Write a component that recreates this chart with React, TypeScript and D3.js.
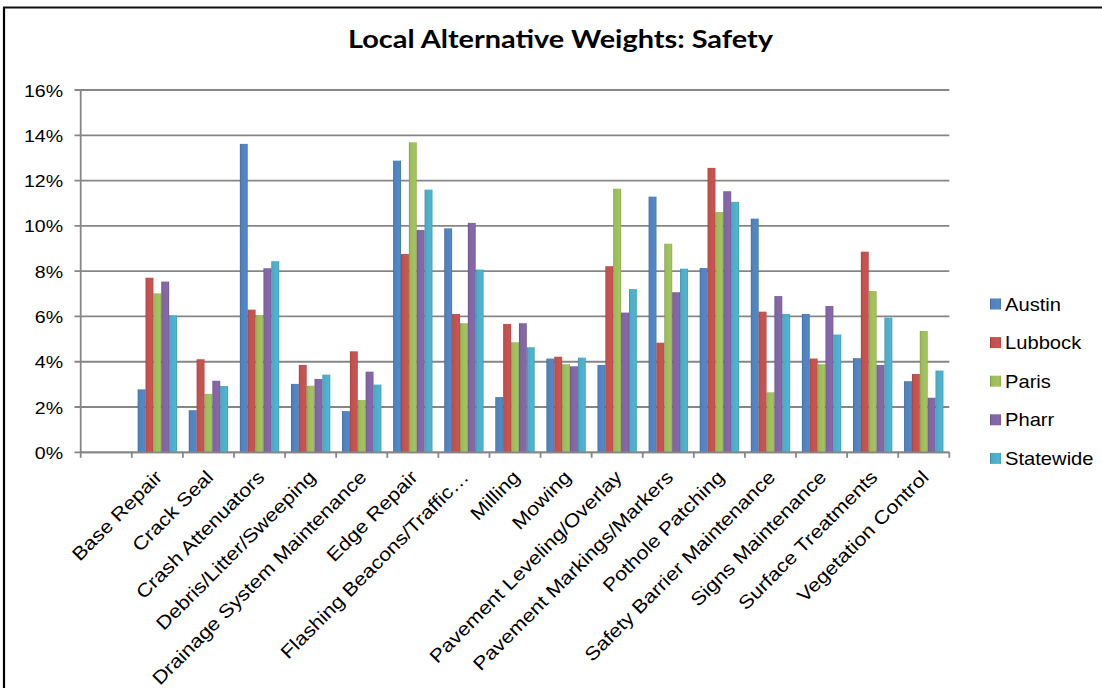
import React from "react";
import * as d3 from "d3";

// Maintenance activities (the leading blank slot is an empty category on the axis)
const categories = [
  "",
  "Base Repair",
  "Crack Seal",
  "Crash Attenuators",
  "Debris/Litter/Sweeping",
  "Drainage System Maintenance",
  "Edge Repair",
  "Flashing Beacons/Traffic…",
  "Milling",
  "Mowing",
  "Pavement Leveling/Overlay",
  "Pavement Markings/Markers",
  "Pothole Patching",
  "Safety Barrier Maintenance",
  "Signs Maintenance",
  "Surface Treatments",
  "Vegetation Control",
];

const seriesNames = ["Austin", "Lubbock", "Paris", "Pharr", "Statewide"];
const seriesColors = ["#4F81BD", "#C0504D", "#9BBB59", "#8064A2", "#4BACC6"];

// Local weights in percent
const austin = [null, 2.78, 1.86, 13.62, 3.02, 1.82, 12.88, 9.89, 2.44, 4.14, 3.86, 11.29, 8.14, 10.32, 6.11, 4.16, 3.14];
const lubbock = [null, 7.71, 4.11, 6.3, 3.86, 4.46, 8.76, 6.11, 5.67, 4.22, 8.22, 4.84, 12.56, 6.21, 4.14, 8.86, 3.46];
const paris = [null, 7.02, 2.58, 6.06, 2.94, 2.31, 13.69, 5.7, 4.86, 3.89, 11.64, 9.21, 10.61, 2.65, 3.89, 7.12, 5.36];
const pharr = [null, 7.54, 3.16, 8.13, 3.24, 3.56, 9.82, 10.13, 5.7, 3.8, 6.17, 7.07, 11.53, 6.9, 6.46, 3.86, 2.41];
const statewide = [null, 6.05, 2.93, 8.44, 3.43, 2.99, 11.6, 8.07, 4.64, 4.18, 7.21, 8.11, 11.06, 6.11, 5.2, 5.95, 3.61];

const seriesValues = [austin, lubbock, paris, pharr, statewide];

const yTicks = [0, 2, 4, 6, 8, 10, 12, 14, 16];
const yTickLabels = yTicks.map((t) => `${t}%`);

const W = 1102;
const H = 688;
const plot = { left: 80.7, right: 949.3, top: 90, bottom: 452.3 };
const FONT = "'Liberation Sans', Arial, sans-serif";
const GRID = "#868686";

export default function App() {
  const x = d3.scaleBand<string>().domain(categories).range([plot.left, plot.right]).padding(0);
  const bw = x.bandwidth();
  const inset = bw * 0.115;
  const xs = d3.scaleBand<string>().domain(seriesNames).range([inset, bw - inset]).padding(0);
  const y = d3.scaleLinear().domain([0, 16]).range([plot.bottom, plot.top]);

  const boundaries = categories.map((c) => x(c) as number).concat([plot.right]);

  return (
    <svg
      width={W}
      height={H}
      viewBox={`0 0 ${W} ${H}`}
      style={{ position: "absolute", left: 0, top: 0, background: "#fff" }}
      fontFamily={FONT}
    >
      <defs>
        {seriesColors.map((c, i) => {
          const base = d3.color(c)!;
          return (
            <linearGradient key={i} id={`bar-${i}`} x1="0" x2="1" y1="0" y2="0">
              <stop offset="0%" stopColor={base.darker(0.7).formatHex()} />
              <stop offset="14%" stopColor={base.formatHex()} />
              <stop offset="80%" stopColor={base.brighter(0.15).formatHex()} />
              <stop offset="100%" stopColor={base.darker(0.25).formatHex()} />
            </linearGradient>
          );
        })}
      </defs>

      <rect x={0} y={0} width={W} height={H} fill="#fff" />
      {/* frame */}
      <line x1={4} x2={4} y1={7} y2={H} stroke="#000" strokeWidth={2.2} />
      <line x1={3} x2={W} y1={7.5} y2={7.5} stroke="#111" strokeWidth={2.2} />

      {/* title */}
      <text
        x={560.5}
        y={48}
        textAnchor="middle"
        fontFamily="Lato, 'Open Sans', sans-serif"
        fontWeight={700}
        fontSize={24}
        textLength={425}
        lengthAdjust="spacingAndGlyphs"
        fill="#000"
      >
        Local Alternative Weights: Safety
      </text>

      {/* gridlines and y ticks */}
      {yTicks.map((t, i) => (
        <g key={t}>
          <line x1={74.5} x2={plot.right} y1={y(t)} y2={y(t)} stroke={GRID} strokeWidth={1.8} />
          <text
            transform={`translate(63,${y(t) + 6.5}) scale(1.15,1)`}
            textAnchor="end"
            fontSize={17}
            fill="#000"
          >
            {yTickLabels[i]}
          </text>
        </g>
      ))}

      {/* y axis */}
      <line x1={plot.left} x2={plot.left} y1={plot.top} y2={plot.bottom} stroke={GRID} strokeWidth={1.8} />

      {/* bars */}
      {categories.map((c, ci) => (
        <g key={`c-${ci}`} transform={`translate(${x(c)},0)`}>
          {seriesNames.map((s, si) => {
            const v = seriesValues[si][ci];
            if (v == null) return null;
            return (
              <rect
                key={s}
                x={xs(s)}
                y={y(v)}
                width={xs.bandwidth()}
                height={y(0) - y(v)}
                fill={`url(#bar-${si})`}
              />
            );
          })}
        </g>
      ))}

      {/* x axis */}
      <line x1={plot.left} x2={plot.right} y1={plot.bottom} y2={plot.bottom} stroke={GRID} strokeWidth={1.8} />
      {boundaries.map((bx, i) => (
        <line key={`tk-${i}`} x1={bx} x2={bx} y1={plot.bottom} y2={plot.bottom + 5.5} stroke={GRID} strokeWidth={1.8} />
      ))}

      {/* category labels */}
      {categories.map((c, ci) =>
        c ? (
          <text
            key={`l-${ci}`}
            transform={`translate(${(x(c) as number) + bw / 2 + 6},${plot.bottom + 26}) rotate(-45) scale(1.15,1)`}
            textAnchor="end"
            fontSize={18.7}
            fill="#000"
          >
            {c}
          </text>
        ) : null
      )}

      {/* legend */}
      {seriesNames.map((s, i) => {
        const cy = 304 + i * 38.6;
        return (
          <g key={`lg-${s}`}>
            <rect x={990} y={cy - 5.5} width={11} height={11} fill={`url(#bar-${i})`} />
            <text transform={`translate(1005,${cy + 6.5}) scale(1.12,1)`} fontSize={18} fill="#000">
              {s}
            </text>
          </g>
        );
      })}
    </svg>
  );
}
